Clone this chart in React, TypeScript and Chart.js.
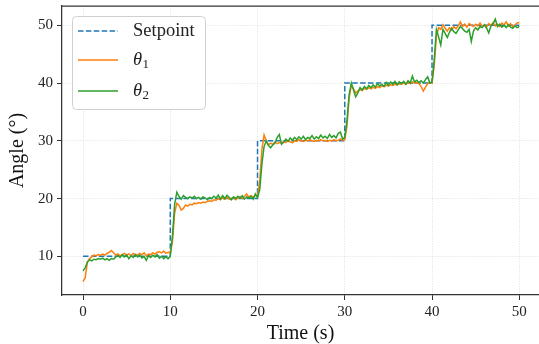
import React, { useEffect, useRef } from "react";
import { Chart, registerables } from "chart.js";

Chart.register(...registerables);

// sampling interval of the measured angle series (s)
const sampleStep = 0.25;

// θ1 (orange), one value every 0.25 s from t = 0 to t = 50
const theta1 = [
  5.6, 6.3, 9.0, 9.6, 9.9, 10.2, 10.1, 10.3, 10.2, 10.4, 10.2, 10.5, 10.7, 11.0, 10.6, 10.2, 10.4, 10.1, 10.3, 10.5,
  10.2, 10.4, 10.1, 10.5, 10.3, 10.2, 10.5, 10.3, 10.6, 10.1, 10.4, 10.3, 10.6, 10.4, 10.7, 10.8, 10.6, 10.9, 10.5, 10.7,
  10.6, 12.5, 17.5, 19.2, 18.8, 18.0, 18.3, 18.9, 18.7, 19.0, 18.9, 19.2, 19.1, 19.3, 19.2, 19.4, 19.3, 19.5, 19.6, 19.5,
  19.8, 19.7, 20.0, 19.8, 20.1, 19.9, 20.2, 19.9, 20.0, 20.2, 19.8, 20.1, 20.3, 20.0, 20.4, 20.8, 20.3, 20.5, 20.2, 20.6,
  20.4, 23.0, 28.5, 31.0, 30.0, 29.3, 29.6, 29.4, 29.8, 29.5, 29.7, 29.6, 29.9, 29.7, 30.1, 29.8, 29.7, 30.0, 29.9, 30.2,
  30.0, 29.9, 30.1, 30.0, 30.2, 30.0, 29.9, 30.1, 30.0, 30.2, 30.0, 30.1, 29.9, 30.1, 30.0, 30.2, 30.0, 30.1, 30.3, 30.1,
  30.2, 32.5, 37.5, 39.6, 39.0, 38.3, 38.6, 38.9, 38.7, 39.1, 38.9, 39.2, 39.0, 39.3, 39.1, 39.4, 39.2, 39.5, 39.4, 39.6,
  39.5, 39.7, 39.6, 39.8, 39.7, 39.9, 39.8, 40.0, 39.8, 40.1, 39.9, 40.2, 40.0, 40.1, 39.9, 39.4, 38.6, 39.3, 39.9, 40.1,
  40.0, 43.0, 48.0, 49.6, 49.3, 50.1, 49.5, 49.0, 49.6, 49.2, 49.8, 49.4, 49.9, 50.6, 49.8, 50.2, 49.7, 50.3, 50.0, 49.8,
  50.2, 49.9, 50.4, 49.8, 50.1, 49.7, 50.3, 50.0, 50.5, 49.9, 50.2, 49.8, 50.4, 50.1, 50.6, 49.9, 50.3, 49.8, 50.1, 50.4,
  50.5,
];

// θ2 (green), same sampling
const theta2 = [
  7.5, 8.0, 9.0, 9.4, 9.2, 9.5, 9.4, 9.6, 9.5, 9.7, 9.4, 9.6, 9.3, 9.6, 9.5, 9.9, 10.1, 9.8, 10.3, 9.9,
  10.2, 9.6, 10.1, 9.8, 10.3, 9.9, 10.2, 9.7, 10.0, 9.3, 10.1, 9.8, 10.2, 9.9, 10.3, 9.7, 10.0, 9.6, 9.9, 9.6,
  10.0, 13.5, 19.0, 21.1, 20.4, 19.9, 20.5, 20.2, 20.0, 20.3, 20.1, 20.4, 20.0, 20.2, 19.9, 20.3, 20.1, 19.8, 20.2, 20.0,
  20.4, 20.1, 20.6, 19.9, 20.5, 20.0, 20.6, 20.2, 19.8, 20.3, 20.0, 20.4, 20.1, 20.5, 19.9, 20.3, 20.1, 20.4, 19.9, 20.8,
  20.2, 21.5, 26.0, 29.0, 30.0, 29.2, 28.8, 29.3, 29.6, 30.6, 31.1, 29.4, 29.8, 30.3, 29.9, 30.5, 30.1, 30.6, 30.2, 30.7,
  30.3, 30.8, 30.2, 30.6, 30.4, 30.9, 30.3, 30.7, 30.4, 31.0, 30.5, 30.8, 30.4, 31.1, 30.6, 30.9, 30.5, 31.3, 31.5, 30.3,
  30.6, 33.5, 38.0, 40.0, 38.8, 37.6, 38.3, 39.2, 38.8, 39.4, 39.0, 39.6, 39.2, 39.7, 39.3, 39.9, 39.5, 39.8, 39.4, 40.1,
  39.6, 40.2, 39.8, 40.3, 39.7, 40.2, 39.9, 40.3, 39.8, 40.4, 40.0, 41.2, 40.2, 40.5, 40.1, 40.4, 40.0, 40.6, 41.1, 40.0,
  40.2, 44.0, 49.3, 48.0, 46.6, 49.3, 48.6, 47.9, 48.8, 49.5, 48.9, 48.6, 49.2, 49.8, 49.4, 49.0, 48.8, 49.3, 47.2, 49.0,
  49.6, 49.2, 49.8, 49.6, 50.1, 49.5, 48.7, 49.9, 50.3, 51.1, 49.8, 50.2, 49.7, 50.0, 49.6, 50.1, 49.7, 49.5, 49.9, 49.6,
  49.8,
];

// setpoint: level reached at each switching time (step drawn horizontally then vertically)
const setpointTimes = [0, 10, 20, 30, 40, 50];
const setpointLevels = [10, 20, 30, 40, 50, 50];

const xTicks = [0, 10, 20, 30, 40, 50];
const yTicks = [10, 20, 30, 40, 50];

const legendEntries = [
  { main: "Setpoint", sub: "", italic: false },
  { main: "θ", sub: "1", italic: true },
  { main: "θ", sub: "2", italic: true },
];

const FONT = '"Liberation Serif", "DejaVu Serif", serif';
const AXIS_COLOR = "#333333";

const topSpine = {
  id: "topSpine",
  afterDraw(chart: any) {
    const { ctx, chartArea } = chart;
    ctx.save();
    ctx.strokeStyle = AXIS_COLOR;
    ctx.lineWidth = 1.25;
    ctx.beginPath();
    ctx.moveTo(chartArea.left, chartArea.top);
    ctx.lineTo(chartArea.right, chartArea.top);
    ctx.stroke();
    ctx.restore();
  },
};

const insetLegend = {
  id: "insetLegend",
  afterDraw(chart: any) {
    const { ctx, chartArea } = chart;
    const x0 = chartArea.left + 10;
    const y0 = chartArea.top + 10;
    const w = 133;
    const h = 93;
    ctx.save();
    ctx.beginPath();
    ctx.roundRect(x0 + 0.5, y0 + 0.5, w, h, 4);
    ctx.fillStyle = "rgba(255,255,255,0.85)";
    ctx.fill();
    ctx.strokeStyle = "#d0d0d0";
    ctx.lineWidth = 1;
    ctx.stroke();

    const rowY = [15, 44, 75];
    legendEntries.forEach((entry, i) => {
      const ds = chart.data.datasets[i];
      const y = y0 + rowY[i];
      ctx.save();
      ctx.strokeStyle = ds.borderColor;
      ctx.lineWidth = ds.borderWidth;
      ctx.setLineDash(ds.borderDash || []);
      ctx.beginPath();
      ctx.moveTo(x0 + 6, y);
      ctx.lineTo(x0 + 46, y);
      ctx.stroke();
      ctx.restore();

      ctx.fillStyle = "#222222";
      ctx.textBaseline = "middle";
      ctx.textAlign = "left";
      ctx.font = `${entry.italic ? "italic " : ""}18.5px ${FONT}`;
      const tx = x0 + 61;
      ctx.fillText(entry.main, tx, y);
      if (entry.sub) {
        const mw = ctx.measureText(entry.main).width;
        ctx.font = `13px ${FONT}`;
        ctx.fillText(entry.sub, tx + mw + 0.5, y + 5);
      }
    });
    ctx.restore();
  },
};

export default function App() {
  const ref = useRef<HTMLCanvasElement>(null);

  useEffect(() => {
    const times = theta1.map((_, i) => i * sampleStep);
    const tickFont = { family: FONT, size: 15 };
    const chart = new Chart(ref.current as HTMLCanvasElement, {
      type: "line",
      data: {
        datasets: [
          {
            label: "Setpoint",
            data: setpointTimes.map((t, i) => ({ x: t, y: setpointLevels[i] })),
            stepped: "before",
            borderColor: "#1f77b4",
            borderDash: [5.5, 2.4],
            borderWidth: 1.5,
            pointRadius: 0,
            fill: false,
            order: 2,
          },
          {
            label: "θ1",
            data: times.map((t, i) => ({ x: t, y: theta1[i] })),
            borderColor: "#ff7f0e",
            borderWidth: 1.5,
            pointRadius: 0,
            tension: 0,
            fill: false,
            order: 1,
          },
          {
            label: "θ2",
            data: times.map((t, i) => ({ x: t, y: theta2[i] })),
            borderColor: "#2ca02c",
            borderWidth: 1.5,
            pointRadius: 0,
            tension: 0,
            fill: false,
            order: 0,
          },
        ] as any,
      },
      options: {
        animation: false,
        responsive: false,
        layout: { padding: { top: 6, right: 0, left: 0, bottom: 0 } },
        plugins: { legend: { display: false }, tooltip: { enabled: false } },
        scales: {
          x: {
            type: "linear",
            min: -2.41,
            max: 52.26,
            afterBuildTicks: (s: any) => {
              s.ticks = xTicks.map((v) => ({ value: v }));
            },
            afterFit: (s: any) => {
              s.height = 49;
              s.paddingLeft = 0;
              s.paddingRight = 0;
            },
            grid: {
              color: "#d9d9d9",
              lineWidth: 0.8,
              tickColor: AXIS_COLOR,
              tickLength: 5,
              tickWidth: 1,
            },
            border: { color: AXIS_COLOR, width: 1.25, dash: [1, 1.5] },
            ticks: {
              font: tickFont,
              color: "#222222",
              padding: 3,
              maxRotation: 0,
              autoSkip: false,
              callback: (v: any) => String(v),
            },
            title: {
              display: true,
              text: "Time (s)",
              font: { family: FONT, size: 20 },
              color: "#111111",
              padding: { top: 0, bottom: -2 },
            },
          },
          y: {
            type: "linear",
            min: 3.3,
            max: 53.35,
            afterBuildTicks: (s: any) => {
              s.ticks = yTicks.map((v) => ({ value: v }));
            },
            afterFit: (s: any) => {
              s.width = 62;
              s.paddingTop = 0;
              s.paddingBottom = 0;
            },
            grid: {
              color: "#d9d9d9",
              lineWidth: 0.8,
              tickColor: AXIS_COLOR,
              tickLength: 5,
              tickWidth: 1,
            },
            border: { color: AXIS_COLOR, width: 1.25, dash: [1, 1.5] },
            ticks: {
              font: tickFont,
              color: "#222222",
              padding: 4,
              autoSkip: false,
              callback: (v: any) => String(v),
            },
            title: {
              display: true,
              text: "Angle (°)",
              font: { family: FONT, size: 20 },
              color: "#111111",
              padding: { top: 6, bottom: 0 },
            },
          },
        },
      },
      plugins: [topSpine, insetLegend],
    });
    return () => chart.destroy();
  }, []);

  return (
    <div style={{ position: "absolute", left: 0, top: 0, width: 539, height: 344, background: "#ffffff" }}>
      <canvas ref={ref} width={539} height={344} style={{ display: "block" }} />
    </div>
  );
}
